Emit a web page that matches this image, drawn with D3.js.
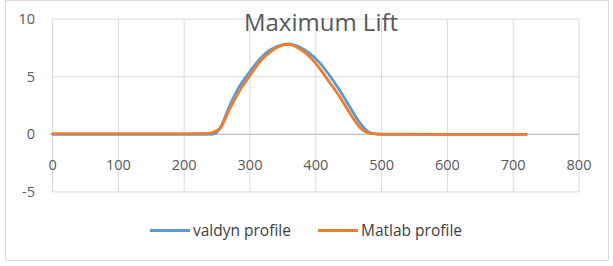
<!DOCTYPE html>
<html>
<head>
<meta charset="utf-8">
<script src="https://cdn.jsdelivr.net/npm/d3@7"></script>
<style>
  body { margin: 0; background: #fff; }
  text { font-family: "Open Sans", sans-serif; fill: #595959; }
</style>
</head>
<body>
<script>
// crank angle (deg) and lift (mm)
var valdynX = [0, 100, 200, 240, 247, 255, 270, 285, 300, 315, 330, 345, 358, 376, 391, 406, 421, 437, 452, 467, 480, 490, 500, 600, 720]
var valdynY = [0, 0, 0, 0, 0.08, 0.6, 2.6, 4.25, 5.45, 6.55, 7.3, 7.7, 7.85, 7.55, 7.0, 6.2, 5.1, 3.75, 2.35, 1.0, 0.2, 0.03, 0, 0, 0]

var matlabX = [0, 100, 200, 235, 245, 255, 270, 285, 300, 315, 330, 345, 358, 376, 391, 406, 421, 437, 452, 467, 482, 500, 600, 720]
var matlabY = [0.05, 0.05, 0.06, 0.08, 0.2, 0.55, 2.3, 3.85, 5.1, 6.3, 7.1, 7.65, 7.8, 7.4, 6.7, 5.7, 4.5, 3.2, 1.8, 0.6, 0.1, 0.02, 0, 0]

var xTicks = [0, 100, 200, 300, 400, 500, 600, 700, 800]
var yTicks = [-5, 0, 5, 10]
var seriesNames = ["valdyn profile", "Matlab profile"]
var colors = ["#5b9bd5", "#ed7d31"]

var svg = d3.select("body").append("svg")
  .attr("width", 613)
  .attr("height", 266)

// chart border
svg.append("rect")
  .attr("x", 5.5).attr("y", 0.5)
  .attr("width", 603).attr("height", 260)
  .attr("fill", "#fff")
  .attr("stroke", "#d9d9d9")

var x = d3.scaleLinear().domain([0, 800]).range([52.6, 579])
var y = d3.scaleLinear().domain([-5, 10]).range([191.9, 19.1])

// grid
svg.append("g").selectAll("line").data(xTicks).join("line")
  .attr("x1", d => x(d)).attr("x2", d => x(d))
  .attr("y1", y(10)).attr("y2", y(-5))
  .attr("stroke", "#d9d9d9")

svg.append("g").selectAll("line").data(yTicks).join("line")
  .attr("x1", x(0)).attr("x2", x(800))
  .attr("y1", d => y(d)).attr("y2", d => y(d))
  .attr("stroke", d => d == 0 ? "#bfbfbf" : "#d9d9d9")
  .attr("stroke-width", d => d == 0 ? 1.2 : 1)

// tick labels
svg.append("g").selectAll("text").data(yTicks).join("text")
  .attr("x", 35).attr("y", d => y(d))
  .attr("dy", "0.35em")
  .attr("text-anchor", "end")
  .attr("font-size", 14.5)
  .text(d => d)

svg.append("g").selectAll("text").data(xTicks).join("text")
  .attr("x", d => x(d)).attr("y", 165)
  .attr("dy", "0.35em")
  .attr("text-anchor", "middle")
  .attr("font-size", 14.5)
  .text(d => d)

// lines
var line = d3.line()
  .x(d => x(d[0]))
  .y(d => y(d[1]))
  .curve(d3.curveMonotoneX)

var series = [
  d3.zip(valdynX, valdynY),
  d3.zip(matlabX, matlabY)
]

svg.append("g").selectAll("path").data(series).join("path")
  .attr("d", line)
  .attr("fill", "none")
  .attr("stroke", (d, i) => colors[i])
  .attr("stroke-width", 2.8)
  .attr("stroke-linecap", "round")

// title
svg.append("text")
  .attr("x", 321).attr("y", 30.5)
  .attr("text-anchor", "middle")
  .attr("font-size", 24)
  .text("Maximum Lift")

// legend
var legX = [150, 318]
var leg = svg.append("g").selectAll("g").data(seriesNames).join("g")
  .attr("transform", (d, i) => "translate(" + legX[i] + ",230.5)")

leg.append("line")
  .attr("x1", 0).attr("x2", 40)
  .attr("stroke", (d, i) => colors[i])
  .attr("stroke-width", 2.8)

leg.append("text")
  .attr("x", 43).attr("dy", "0.35em")
  .attr("font-size", 15.5)
  .style("fill", "#404040")
  .text(d => d)
</script>
</body>
</html>
